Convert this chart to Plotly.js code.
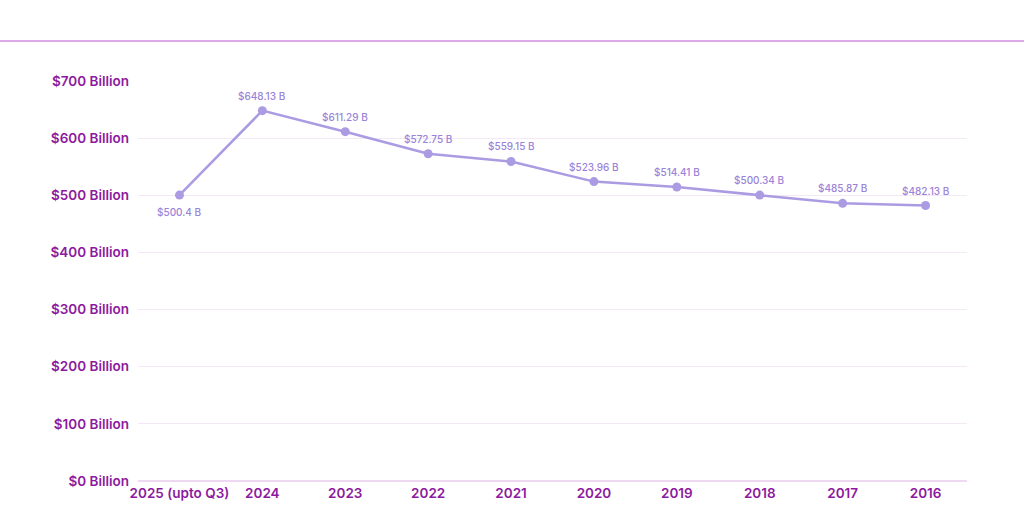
<!DOCTYPE html>
<html><head><meta charset="utf-8">
<script src="https://cdn.plot.ly/plotly-3.0.1.min.js"></script>
<style>html,body{margin:0;padding:0;background:#fff;}#chart{width:1024px;height:509px;}</style>
</head><body><div id="chart"></div>
<script>
const years = ["2025 (upto Q3)","2024","2023","2022","2021","2020","2019","2018","2017","2016"];
const revenue = [500.4,648.13,611.29,572.75,559.15,523.96,514.41,500.34,485.87,482.13];
const labels = ["$500.4 B","$648.13 B","$611.29 B","$572.75 B","$559.15 B","$523.96 B","$514.41 B","$500.34 B","$485.87 B","$482.13 B"];
const tickVals = [0,100,200,300,400,500,600,700];
const tickText = ["$0 Billion","$100 Billion","$200 Billion","$300 Billion","$400 Billion","$500 Billion","$600 Billion","$700 Billion"];

const L=138, R=57, T=81, B=28, W=1024, H=509;
const pw = W-L-R;
const ph = H-T-B;
const trace = {
  x: years, y: revenue, type:'scatter', mode:'lines+markers',
  line:{color:'#ab9be2', width:2.5},
  marker:{color:'#ab9be2', size:9},
  cliponaxis:false, hoverinfo:'skip'
};
const annotations = years.map((c,i)=>({
  x:i, y:revenue[i], xref:'x', yref:'y', text:labels[i], showarrow:false,
  yshift: i===0 ? -17 : 15,
  font:{family:'Inter, "Open Sans", sans-serif', size:10, color:'#9a83d8', weight:500}
}));
const tf = {family:'Inter, "Liberation Sans", sans-serif', size:13.5, color:'#8c1a9e', weight:600};
const layout = {
  width:W, height:H,
  margin:{l:L, r:R, t:T, b:B},
  paper_bgcolor:'#fff', plot_bgcolor:'#fff',
  showlegend:false,
  annotations: annotations,
  xaxis:{type:'category', range:[-0.5,9.5], showgrid:false, zeroline:false, showline:false,
    tickfont:tf, ticks:'', ticklabelstandoff:2},
  yaxis:{range:[0,700], tickvals:tickVals, ticktext:tickText, showgrid:true, gridcolor:'#f4e8f5', gridwidth:1,
    zeroline:true, zerolinecolor:'#efd9f2', zerolinewidth:1.5, showline:false,
    tickfont:tf, ticks:'', ticklabelstandoff:8},
  shapes:[{type:'line', xref:'paper', yref:'paper',
    x0:-L/pw, x1:(W-L)/pw, y0:(H-41-B)/ph, y1:(H-41-B)/ph,
    line:{color:'#dcaae8', width:2}}]
};
Plotly.newPlot('chart',[trace],layout,{displayModeBar:false, staticPlot:true});
</script></body></html>
